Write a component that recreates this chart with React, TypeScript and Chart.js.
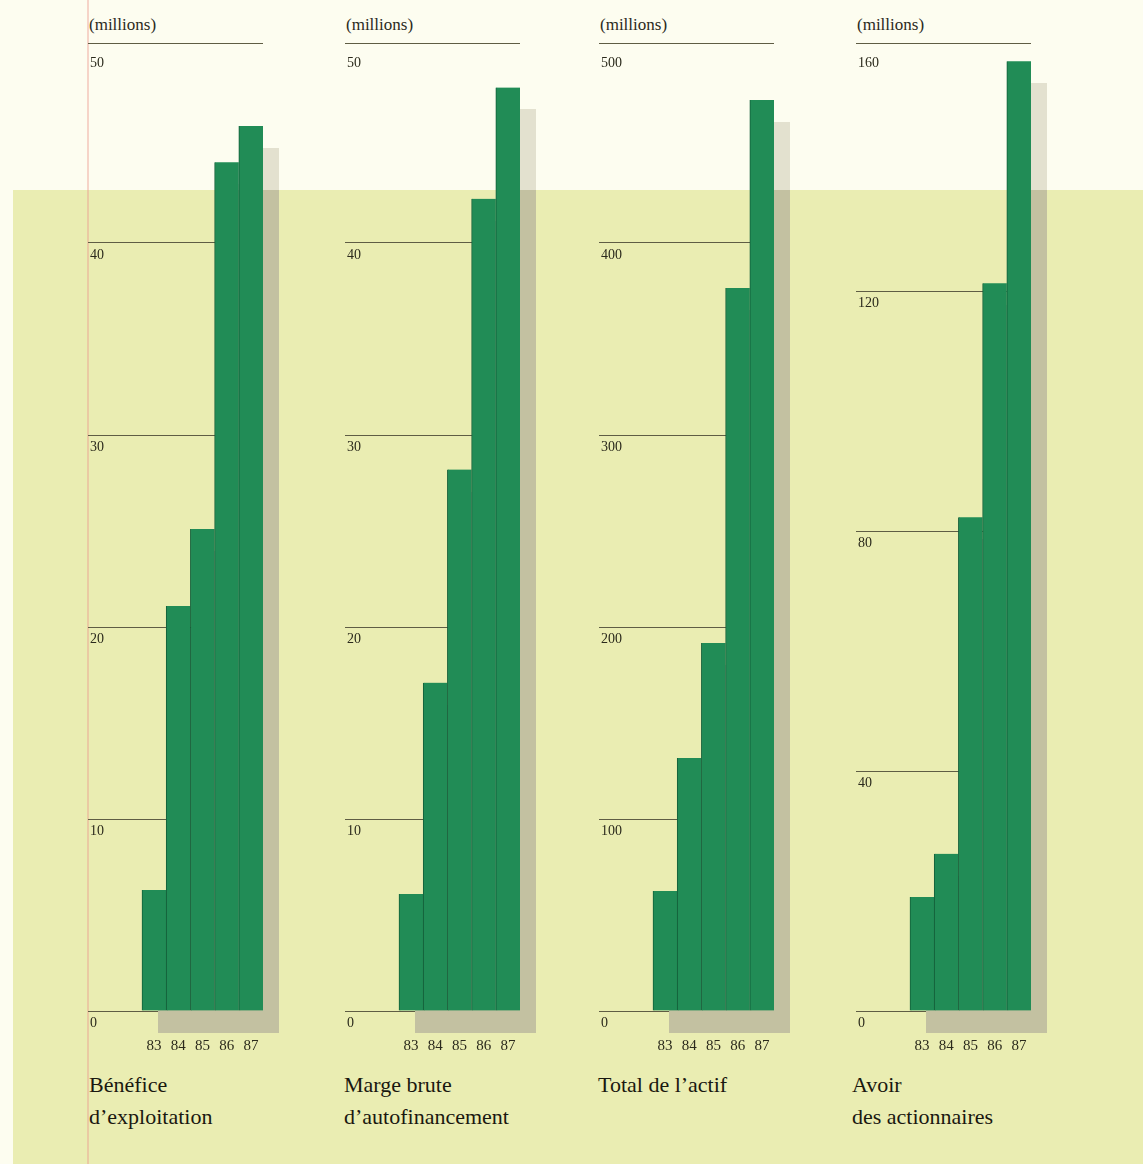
import React, { useEffect, useRef } from 'react';
import { Chart, registerables } from 'chart.js';

Chart.register(...registerables);

// ---- Data ----
const years = ['83', '84', '85', '86', '87'];
const beneficeValues = [6.3, 21.1, 25.1, 44.2, 46.1];
const margeValues = [6.1, 17.1, 28.2, 42.3, 48.1];
const actifValues = [62.5, 131.8, 191.7, 376.6, 474.5];
const avoirValues = [19, 26.2, 82.3, 121.3, 158.3];

const beneficeCaption = ['Bénéfice', 'd’exploitation'];
const margeCaption = ['Marge brute', 'd’autofinancement'];
const actifCaption = ['Total de l’actif'];
const avoirCaption = ['Avoir', 'des actionnaires'];

const unitLabel = '(millions)';

// ---- Styles ----
const SERIF = '"Liberation Serif", "DejaVu Serif", serif';
const BAR = '#218c56';
const BAR_EDGE = '#135f39';
const GRID = '#5f5d44';
const TEXT = '#2b2a1c';
const CREAM = '#fdfdf0';
const YELLOW = '#eaedb2';
const SHADOW_LIGHT = '#e3e1cf';
const SHADOW_DARK = '#c3c1a1';

const CANVAS_W = 210;
const CANVAS_H = 1061;
const AREA_TOP = 51;
const HEADER_GAP = 8;
const SPLIT_Y = 190;

const shadowPlugin = {
  id: 'barShadow',
  beforeDatasetsDraw(chart: any, _args: any, opts: any) {
    const { ctx, chartArea } = chart;
    ctx.save();
    // header rule above the scale
    const hy = Math.round(chartArea.top - opts.headerGap) + 0.5;
    ctx.strokeStyle = opts.ruleColor;
    ctx.lineWidth = 1;
    ctx.beginPath();
    ctx.moveTo(chartArea.left, hy);
    ctx.lineTo(chartArea.right, hy);
    ctx.stroke();
    // offset shadow of the bar group
    const meta = chart.getDatasetMeta(0);
    meta.data.forEach((el: any) => {
      const { x, y, base, width } = el.getProps(['x', 'y', 'base', 'width'], true);
      const l = Math.round(x - width / 2 + opts.dx);
      const r = Math.round(x + width / 2 + opts.dx);
      const t = Math.round(Math.min(y, base) + opts.dy);
      const b = Math.round(Math.max(y, base) + opts.dy);
      if (t < opts.splitY) {
        ctx.fillStyle = opts.lightColor;
        ctx.fillRect(l, t, r - l, Math.min(b, opts.splitY) - t);
      }
      if (b > opts.splitY) {
        const tt = Math.max(t, opts.splitY);
        ctx.fillStyle = opts.darkColor;
        ctx.fillRect(l, tt, r - l, b - tt);
      }
    });
    ctx.restore();
  },
};

type PanelProps = {
  left: number;
  captionLeft: number;
  max: number;
  step: number;
  values: number[];
  caption: string[];
};

function Panel({ left, captionLeft, max, step, values, caption }: PanelProps) {
  const ref = useRef<HTMLCanvasElement>(null);

  useEffect(() => {
    const chart = new Chart(ref.current as HTMLCanvasElement, {
      type: 'bar',
      data: {
        datasets: [
          {
            data: values.map((v, i) => ({ x: i, y: v })),
            backgroundColor: BAR,
            borderColor: BAR_EDGE,
            borderWidth: { left: 1, right: 0, top: 0, bottom: 0 },
            borderSkipped: false,
            barPercentage: 1,
            categoryPercentage: 1,
          } as any,
        ],
      },
      options: {
        responsive: false,
        maintainAspectRatio: false,
        animation: false,
        events: [],
        layout: { padding: { left: 0, right: CANVAS_W - 175, top: AREA_TOP, bottom: 0 } },
        plugins: {
          legend: { display: false },
          tooltip: { enabled: false },
          barShadow: {
            dx: 16,
            dy: 22,
            splitY: SPLIT_Y,
            lightColor: SHADOW_LIGHT,
            darkColor: SHADOW_DARK,
            headerGap: HEADER_GAP,
            ruleColor: GRID,
          },
        } as any,
        scales: {
          x: {
            type: 'linear',
            min: -2.73,
            max: 4.5,
            offset: false,
            grid: { display: false, drawTicks: false },
            border: { display: false },
            afterBuildTicks: (s: any) => {
              s.ticks = years.map((_, i) => ({ value: i }));
            },
            afterFit: (s: any) => {
              s.height = 50;
            },
            ticks: {
              callback: (v: any) => years[Number(v)] ?? '',
              padding: 26,
              maxRotation: 0,
              autoSkip: false,
              color: TEXT,
              font: { family: SERIF, size: 15 },
            },
          },
          y: {
            type: 'linear',
            min: 0,
            max,
            grid: {
              color: (c: any) => (c.tick && c.tick.value === max ? 'rgba(0,0,0,0)' : GRID),
              lineWidth: 1,
              drawTicks: false,
            },
            border: { display: false },
            afterFit: (s: any) => {
              s.width = 0;
            },
            ticks: {
              stepSize: step,
              mirror: true,
              padding: 2,
              labelOffset: 12,
              color: TEXT,
              font: { family: SERIF, size: 14 },
            },
          },
        },
      } as any,
      plugins: [shadowPlugin as any],
    });
    return () => chart.destroy();
  }, []);

  return (
    <>
      <div
        style={{
          position: 'absolute',
          left: left + 1,
          top: 15,
          fontFamily: SERIF,
          fontSize: 17,
          lineHeight: '20px',
          color: TEXT,
          whiteSpace: 'nowrap',
        }}
      >
        {unitLabel}
      </div>
      <canvas
        ref={ref}
        width={CANVAS_W}
        height={CANVAS_H}
        style={{ position: 'absolute', left, top: 0, width: CANVAS_W, height: CANVAS_H }}
      />
      <div
        style={{
          position: 'absolute',
          left: captionLeft,
          top: 1069,
          fontFamily: SERIF,
          fontSize: 22,
          lineHeight: '32px',
          color: '#1a1810',
          whiteSpace: 'nowrap',
        }}
      >
        {caption.map((c, i) => (
          <div key={i}>{c}</div>
        ))}
      </div>
    </>
  );
}

export default function App() {
  return (
    <div
      style={{
        position: 'absolute',
        left: 0,
        top: 0,
        width: 1143,
        height: 1164,
        overflow: 'hidden',
        background: CREAM,
      }}
    >
      <div style={{ position: 'absolute', left: 13, top: SPLIT_Y, right: 0, bottom: 0, background: YELLOW }} />
      <div
        style={{
          position: 'absolute',
          left: 87,
          top: 0,
          width: 2,
          height: 1164,
          background: 'rgba(236,150,140,0.4)',
        }}
      />
      <Panel left={88} captionLeft={89} max={50} step={10} values={beneficeValues} caption={beneficeCaption} />
      <Panel left={345} captionLeft={344} max={50} step={10} values={margeValues} caption={margeCaption} />
      <Panel left={599} captionLeft={598} max={500} step={100} values={actifValues} caption={actifCaption} />
      <Panel left={856} captionLeft={852} max={160} step={40} values={avoirValues} caption={avoirCaption} />
    </div>
  );
}
